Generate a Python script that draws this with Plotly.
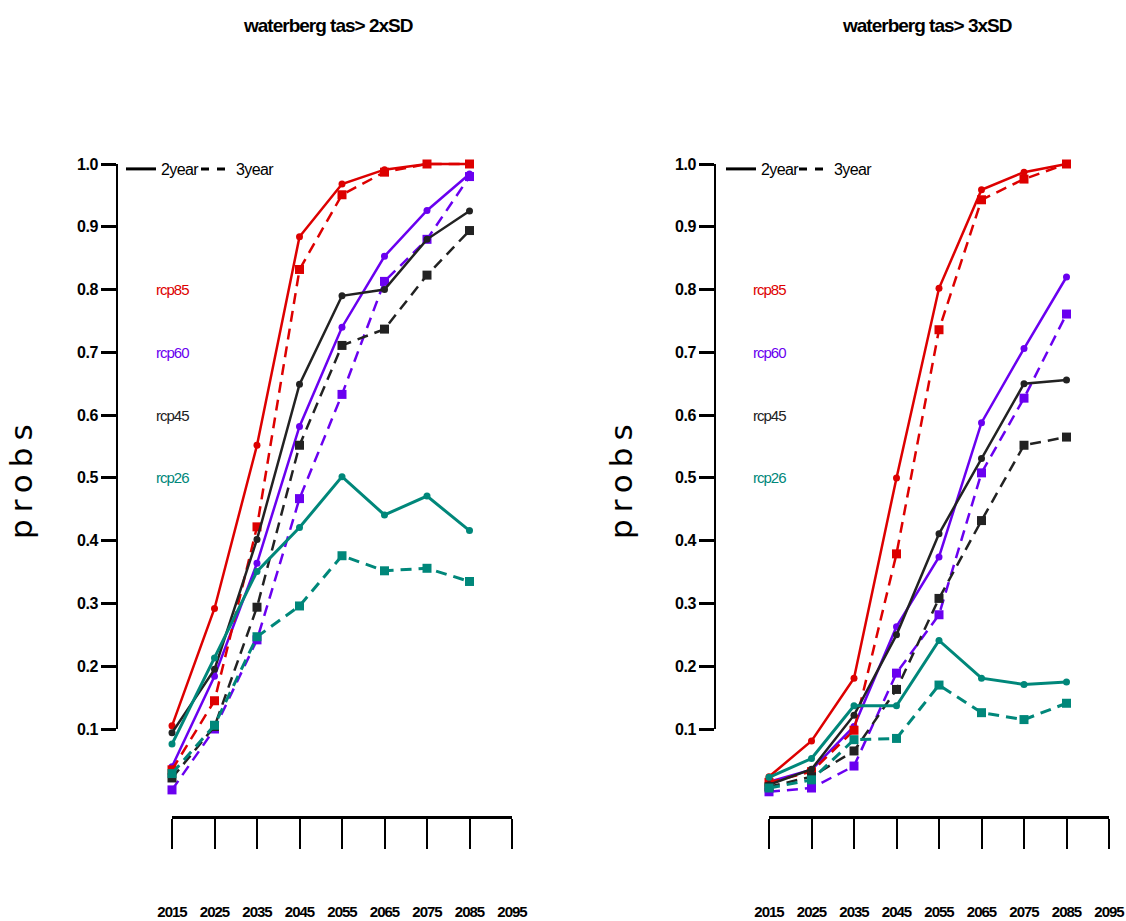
import plotly.graph_objects as go

# ---- data -------------------------------------------------------------
years = [2015, 2025, 2035, 2045, 2055, 2065, 2075, 2085]
tick_years = [2015, 2025, 2035, 2045, 2055, 2065, 2075, 2085, 2095]
prob_ticks = [0.1, 0.2, 0.3, 0.4, 0.5, 0.6, 0.7, 0.8, 0.9, 1.0]

scenarios = ["rcp60", "rcp85", "rcp45", "rcp26"]  # drawing order
label_order = ["rcp85", "rcp60", "rcp45", "rcp26"]
label_y = [0.8, 0.7, 0.6, 0.5]

titles = ["waterberg tas> 2xSD", "waterberg tas> 3xSD"]

# exceedance of 2 x SD
sd2_rcp85_2y = [0.105, 0.292, 0.552, 0.884, 0.968, 0.991, 1.000, 1.000]
sd2_rcp85_3y = [0.035, 0.145, 0.422, 0.832, 0.951, 0.987, 1.000, 1.000]
sd2_rcp60_2y = [0.040, 0.184, 0.364, 0.582, 0.740, 0.853, 0.926, 0.984]
sd2_rcp60_3y = [0.003, 0.100, 0.242, 0.467, 0.633, 0.813, 0.880, 0.980]
sd2_rcp45_2y = [0.094, 0.195, 0.402, 0.649, 0.790, 0.800, 0.880, 0.925]
sd2_rcp45_3y = [0.022, 0.104, 0.294, 0.552, 0.711, 0.737, 0.823, 0.894]
sd2_rcp26_2y = [0.076, 0.213, 0.351, 0.421, 0.502, 0.441, 0.471, 0.416]
sd2_rcp26_3y = [0.029, 0.106, 0.247, 0.296, 0.376, 0.352, 0.356, 0.335]

# exceedance of 3 x SD
sd3_rcp85_2y = [0.024, 0.081, 0.181, 0.500, 0.802, 0.959, 0.987, 1.000]
sd3_rcp85_3y = [0.015, 0.032, 0.098, 0.379, 0.736, 0.943, 0.976, 1.000]
sd3_rcp60_2y = [0.016, 0.035, 0.104, 0.263, 0.374, 0.588, 0.706, 0.820]
sd3_rcp60_3y = [0.000, 0.006, 0.041, 0.189, 0.282, 0.508, 0.627, 0.761]
sd3_rcp45_2y = [0.011, 0.036, 0.122, 0.250, 0.411, 0.531, 0.650, 0.656]
sd3_rcp45_3y = [0.008, 0.024, 0.065, 0.163, 0.308, 0.432, 0.552, 0.565]
sd3_rcp26_2y = [0.023, 0.053, 0.137, 0.137, 0.241, 0.181, 0.171, 0.175]
sd3_rcp26_3y = [0.006, 0.019, 0.083, 0.085, 0.170, 0.126, 0.115, 0.141]

panels = [
    {"rcp85": (sd2_rcp85_2y, sd2_rcp85_3y), "rcp60": (sd2_rcp60_2y, sd2_rcp60_3y),
     "rcp45": (sd2_rcp45_2y, sd2_rcp45_3y), "rcp26": (sd2_rcp26_2y, sd2_rcp26_3y)},
    {"rcp85": (sd3_rcp85_2y, sd3_rcp85_3y), "rcp60": (sd3_rcp60_2y, sd3_rcp60_3y),
     "rcp45": (sd3_rcp45_2y, sd3_rcp45_3y), "rcp26": (sd3_rcp26_2y, sd3_rcp26_3y)},
]

colors = {"rcp85": "#DD0000", "rcp60": "#6A00F0", "rcp45": "#222222", "rcp26": "#00877A"}
widths = {"rcp85": 2.5, "rcp60": 2.5, "rcp45": 2.5, "rcp26": 3.0}

# ---- page geometry (pixels) ------------------------------------------
W, H = 1126, 921
SANS = "Liberation Sans, Arial, sans-serif"


def fx(px):
    return px / W


def fy(py):
    return 1 - py / H


def tight(text, spacing):
    """Wrap text in a span with adjusted letter spacing."""
    return f'<span style="letter-spacing:{spacing}px">{text}</span>'


# vertical scale shared by both panels: value 0 sits at Y0, K px per unit
Y0, K = 791.78, 627.78
AXIS_PY, TOP_PY = 816, 150
data_yrange = [(Y0 - AXIS_PY) / K, (Y0 - TOP_PY) / K]

panel_geom = [
    {"x0": 172, "x1": 512, "yaxis_px": 117, "title_px": 328, "ylab_px": 21,
     "key_px": (121, 196)},
    {"x0": 769, "x1": 1109, "yaxis_px": 715, "title_px": 927, "ylab_px": 621,
     "key_px": (721, 794)},
]

fig = go.Figure()
annotations = []
layout = {}

for i, (pdata, geom) in enumerate(zip(panels, panel_geom)):
    xa = "x" if i == 0 else "x2"
    ya = "y" if i == 0 else "y2"
    ya_ticks = "y3" if i == 0 else "y4"
    # one single-entry legend per line style and panel
    leg_solid = "legend" if i == 0 else "legend3"
    leg_dash = "legend2" if i == 0 else "legend4"

    for sc in scenarios:
        two, three = pdata[sc]
        fig.add_trace(go.Scatter(
            x=years, y=three, mode="lines+markers", xaxis=xa, yaxis=ya,
            line=dict(color=colors[sc], width=widths[sc], dash="11px,7px"),
            marker=dict(symbol="square", size=9, color=colors[sc]),
            cliponaxis=False, showlegend=False, hoverinfo="skip"))
        fig.add_trace(go.Scatter(
            x=years, y=two, mode="lines+markers", xaxis=xa, yaxis=ya,
            line=dict(color=colors[sc], width=widths[sc]),
            marker=dict(symbol="circle", size=7, color=colors[sc]),
            cliponaxis=False, showlegend=False, hoverinfo="skip"))

    # legend entries for the two window lengths
    fig.add_trace(go.Scatter(x=[None], y=[None], mode="lines", xaxis=xa, yaxis=ya,
                             line=dict(color="black", width=3), name=tight("2year", -0.6),
                             legend=leg_solid))
    fig.add_trace(go.Scatter(x=[None], y=[None], mode="lines", xaxis=xa, yaxis=ya,
                             line=dict(color="black", width=3, dash="8px,8px"),
                             name=tight("3year", -0.6), legend=leg_dash))
    # carrier for the probability tick axis
    fig.add_trace(go.Scatter(x=[None], y=[None], xaxis=xa, yaxis=ya_ticks,
                             showlegend=False, hoverinfo="skip"))

    xkey = "xaxis" if i == 0 else "xaxis2"
    ykey = "yaxis" if i == 0 else "yaxis2"
    ytkey = "yaxis3" if i == 0 else "yaxis4"

    layout[xkey] = dict(
        domain=[fx(geom["x0"]), fx(geom["x1"])], range=[2015, 2095], anchor=ya,
        tickmode="array", tickvals=tick_years,
        ticktext=[tight(str(t), -1) for t in tick_years],
        showline=True, linecolor="black", linewidth=3,
        ticks="outside", ticklen=30, tickwidth=2, tickcolor="black",
        ticklabelstandoff=50, showgrid=False, zeroline=False, automargin=False,
        tickfont=dict(family=SANS, size=15, color="black", weight="bold"))
    layout[ykey] = dict(
        domain=[fy(AXIS_PY), fy(TOP_PY)], range=data_yrange, anchor=xa,
        visible=False, showgrid=False, zeroline=False, automargin=False)
    layout[ytkey] = dict(
        domain=[fy(729), fy(164)], range=[0.1, 1.0], anchor="free",
        position=fx(geom["yaxis_px"]), side="left", automargin=False,
        tickmode="array", tickvals=prob_ticks,
        ticktext=[tight(f"{v:.1f}", -0.5) for v in prob_ticks],
        showline=True, linecolor="black", linewidth=2,
        ticks="outside", ticklen=15, tickwidth=3, tickcolor="black",
        showgrid=False, zeroline=False,
        tickfont=dict(family=SANS, size=16, color="black", weight="bold"))

    for leg_name, lx in zip((leg_solid, leg_dash), geom["key_px"]):
        layout[leg_name] = dict(
            x=fx(lx), y=fy(169), xanchor="left", yanchor="middle",
            orientation="h", bgcolor="rgba(0,0,0,0)",
            font=dict(family=SANS, size=16, color="black"),
            itemwidth=30, itemclick=False, itemdoubleclick=False)

    # panel title
    annotations.append(dict(
        text=tight(titles[i], -1), x=fx(geom["title_px"]), y=fy(25),
        xref="paper", yref="paper",
        showarrow=False, xanchor="center", yanchor="middle",
        font=dict(family=SANS, size=19, color="black", weight="bold")))
    # vertical axis label
    annotations.append(dict(
        text=tight("probs", 7),
        x=fx(geom["ylab_px"]), y=fy(478), xref="paper", yref="paper",
        showarrow=False, xanchor="center", yanchor="middle", textangle=-90,
        font=dict(family="DejaVu Sans, sans-serif", size=31, color="black")))
    # scenario labels
    for sc, ly in zip(label_order, label_y):
        annotations.append(dict(
            text=tight(sc, -1), x=2015, y=ly, xref=xa, yref=ya, showarrow=False,
            xanchor="center", yanchor="middle",
            font=dict(family=SANS, size=15, color=colors[sc])))

fig.update_layout(
    width=W, height=H, margin=dict(l=0, r=0, t=0, b=0, pad=0, autoexpand=False),
    paper_bgcolor="white", plot_bgcolor="rgba(0,0,0,0)",
    showlegend=True,
    annotations=annotations,
    **layout,
)

fig.write_html("out.html")
